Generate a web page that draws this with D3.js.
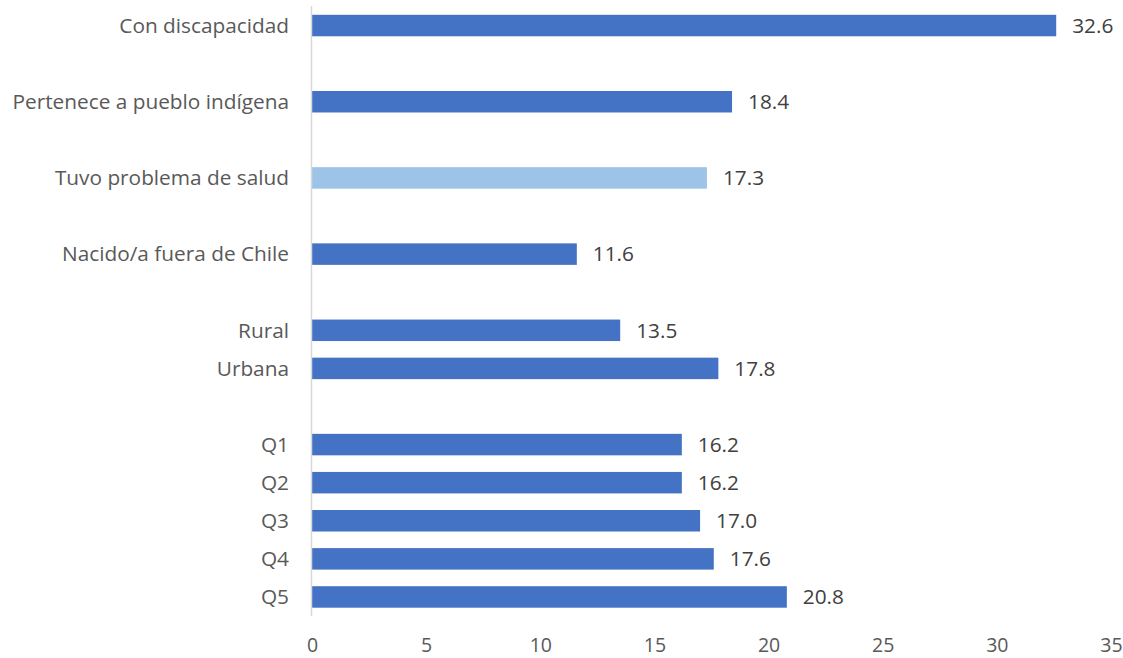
<!DOCTYPE html>
<html><head><meta charset="utf-8">
<script src="https://cdn.jsdelivr.net/npm/d3@7"></script>
<style>body{margin:0;background:#fff;}svg{display:block;}</style>
</head><body>
<svg id="c" width="1123" height="658"></svg>
<script>
const categories = ["Con discapacidad","Pertenece a pueblo indígena","Tuvo problema de salud","Nacido/a fuera de Chile","Rural","Urbana","Q1","Q2","Q3","Q4","Q5"];
const values = [32.6,18.4,17.3,11.6,13.5,17.8,16.2,16.2,17.0,17.6,20.8];
const groups = [1,2,3,4,5,5,6,6,6,6,6];
const highlighted = ["Tuvo problema de salud"];
const xTicks = [0,5,10,15,20,25,30,35];

// build slot domain with spacers between groups
const domain = [];
categories.forEach((c,i)=>{
  if(i>0 && groups[i]!==groups[i-1]) domain.push("__gap"+i);
  domain.push(c);
});

const svg = d3.select("#c");
const x = d3.scaleLinear().domain([0,35]).range([312,1111]);
const y = d3.scaleBand().domain(domain).range([6.5,616]).paddingInner(0.436).paddingOuter(0.218);

const font = "'Open Sans', sans-serif";
const fs = 20.8;

svg.selectAll("rect.bar").data(categories).join("rect")
  .attr("class","bar")
  .attr("x", x(0))
  .attr("y", d=>y(d))
  .attr("width", (d,i)=>x(values[i])-x(0))
  .attr("height", y.bandwidth())
  .attr("fill", d=>highlighted.includes(d)?"#9DC3E6":"#4472C4");

// y axis line
svg.append("line").attr("x1",x(0)-0.5).attr("x2",x(0)-0.5).attr("y1",6).attr("y2",616)
  .attr("stroke","#d9d9d9").attr("stroke-width",1.5);

// category labels
svg.selectAll("text.cat").data(categories).join("text")
  .attr("class","cat")
  .attr("x", 289)
  .attr("y", d=>y(d)+y.bandwidth()/2)
  .attr("dy","0.35em")
  .attr("text-anchor","end")
  .attr("font-family",font).attr("font-size",fs)
  .attr("fill","#595959")
  .text(d=>d);

// value labels
svg.selectAll("text.val").data(categories).join("text")
  .attr("class","val")
  .attr("x", (d,i)=>x(values[i])+16)
  .attr("y", d=>y(d)+y.bandwidth()/2)
  .attr("dy","0.35em")
  .attr("font-family",font).attr("font-size",fs)
  .attr("fill","#404040")
  .text((d,i)=>values[i].toFixed(1));

// x axis
const xAxis = d3.axisBottom(x).tickValues(xTicks).tickSize(0).tickPadding(0);
const gx = svg.append("g").attr("transform","translate(0,0)").call(xAxis);
gx.select(".domain").remove();
gx.selectAll("text").attr("font-family",font).attr("font-size",19.5).attr("fill","#595959").attr("dy",null).attr("y",652);
</script>
</body></html>
